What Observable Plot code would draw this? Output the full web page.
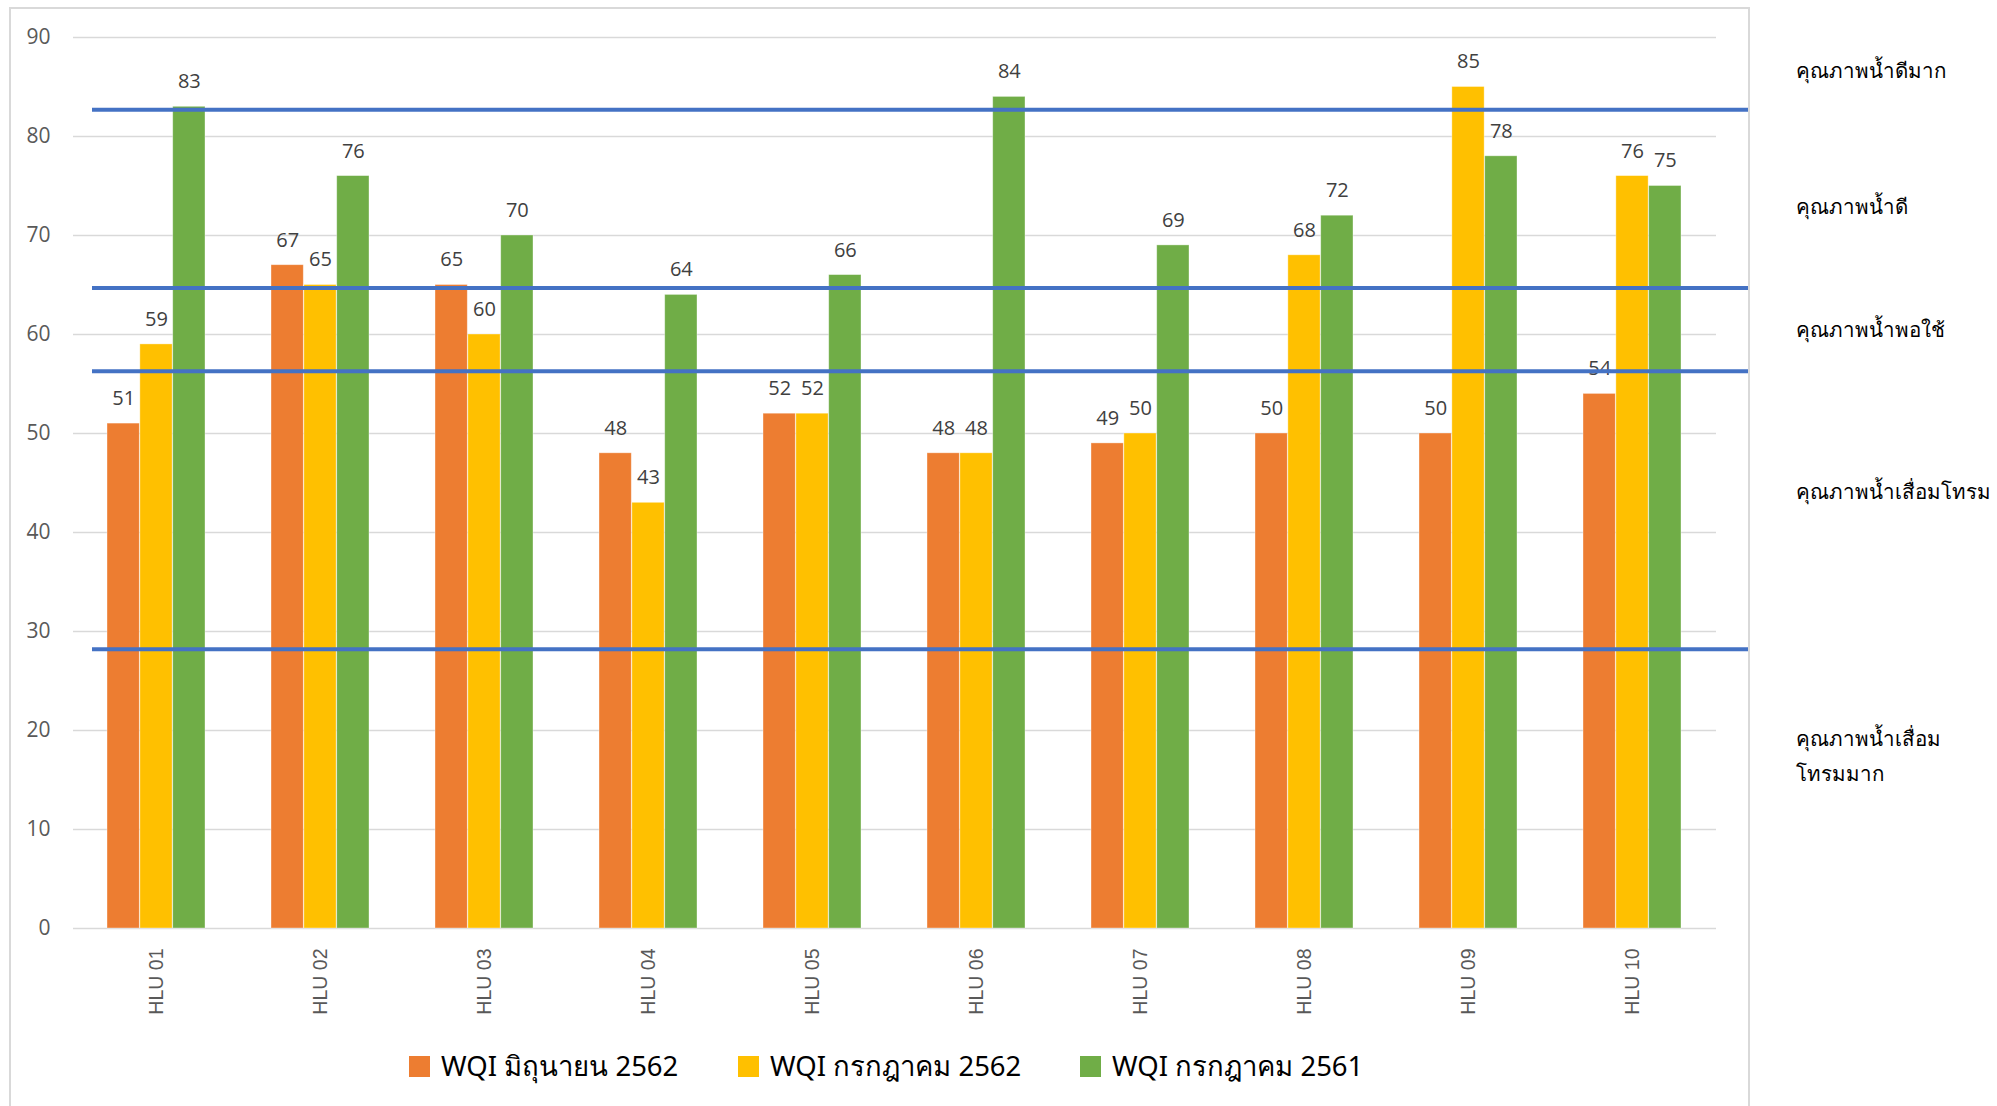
<!DOCTYPE html>
<html>
<head>
<meta charset="utf-8">
<script src="https://cdn.jsdelivr.net/npm/d3@7"></script>
<script src="https://cdn.jsdelivr.net/npm/@observablehq/plot@0.6"></script>
<style>
  html, body { margin: 0; padding: 0; background: #fff; overflow: hidden; }
  #wrap { position: relative; width: 1997px; height: 1106px; }
  #box { position: absolute; left: 9px; top: 7px; width: 1737px; height: 1200px; border: 2px solid #D9D9D9; pointer-events: none; }
  #chart { position: absolute; left: 0; top: 0; }
  #chart svg [aria-label^="x-axis"] text { font-family: "Liberation Sans", Arial, sans-serif; font-size: 19.5px; }
  #legend { position: absolute; left: 0; top: 1030px; width: 1997px; height: 72px; font-family: "Noto Sans", "DejaVu Sans", sans-serif; font-size: 27.5px; color: #000; }
  .item { position: absolute; top: 0; height: 72px; display: flex; align-items: center; }
  .sw { width: 21px; height: 21px; margin-right: 11px; }
</style>
</head>
<body>
<div id="wrap">
  <div id="chart"></div>
  <div id="legend"></div>
  <div id="box"></div>
</div>
<script>
const stations = ["HLU 01","HLU 02","HLU 03","HLU 04","HLU 05","HLU 06","HLU 07","HLU 08","HLU 09","HLU 10"];
const seriesNames = ["WQI มิถุนายน 2562","WQI กรกฎาคม 2562","WQI กรกฎาคม 2561"];
const wqiJun2562 = [51, 67, 65, 48, 52, 48, 49, 50, 50, 54];
const wqiJul2562 = [59, 65, 60, 43, 52, 48, 50, 68, 85, 76];
const wqiJul2561 = [83, 76, 70, 64, 66, 84, 69, 72, 78, 75];
const seriesColors = ["#ED7D31","#FFC000","#70AD47"];
const yTicks = [0,10,20,30,40,50,60,70,80,90];
const thresholds = [82.7, 64.7, 56.3, 28.2];
const zoneLabels = ["คุณภาพน้ำดีมาก","คุณภาพน้ำดี","คุณภาพน้ำพอใช้","คุณภาพน้ำเสื่อมโทรม","คุณภาพน้ำเสื่อม\nโทรมมาก"];
const zoneLabelY = [86.5, 72.8, 60.4, 44, 17.3];

const seriesValues = [wqiJun2562, wqiJul2562, wqiJul2561];
const rows = stations.flatMap((s, j) => seriesNames.map((name, i) => ({station: s, series: name, idx: i, value: seriesValues[i][j]})));
const zones = zoneLabels.map((t, i) => ({label: t, y: zoneLabelY[i]}));

const W = 1997, H = 1030, mL = 73, mR = 1997 - 1716, mT = 37, mB = H - 928;
const step = (W - mL - mR) / (stations.length - 0.4 + 0.4);
const bw = step * 0.6;
const third = bw / 3;

const marks = [
  Plot.ruleY(yTicks, {stroke: "#D9D9D9", strokeWidth: 1.5}),
];
seriesNames.forEach((name, i) => {
  const data = rows.filter(d => d.idx === i);
  marks.push(Plot.barY(data, {
    x: "station", y: "value", fill: "series",
    insetLeft: third * i, insetRight: third * (2 - i),
    stroke: "#fff", strokeOpacity: 0.45, strokeWidth: 0.8
  }));
  marks.push(Plot.text(data, {
    x: "station", y: "value", text: d => String(d.value),
    dx: third * (i - 1), dy: -25, lineAnchor: "middle",
    fill: "#404040", fontSize: 20, fontFamily: "Open Sans, sans-serif"
  }));
});
marks.push(Plot.ruleY(thresholds, {stroke: "#4472C4", strokeWidth: 4, insetLeft: 19, insetRight: -33}));
marks.push(Plot.text(zones, {
  y: "y", text: "label", frameAnchor: "right", dx: 79, dy: -5, textAnchor: "start",
  lineAnchor: "middle", lineHeight: 1.7, fill: "#000", fontSize: 20.5,
  fontFamily: "Noto Sans, DejaVu Sans, sans-serif"
}));

const chart = Plot.plot({
  width: W, height: H,
  marginLeft: mL, marginRight: mR, marginTop: mT, marginBottom: mB,
  style: {fontFamily: "Open Sans, sans-serif", fontSize: "21px", color: "#595959", background: "transparent", overflow: "visible"},
  x: {domain: stations, paddingInner: 0.4, paddingOuter: 0.2, tickSize: 0, tickPadding: 20, tickRotate: -90, label: null},
  y: {domain: [0, 90], ticks: yTicks, tickSize: 0, tickPadding: 23, label: null},
  color: {domain: seriesNames, range: seriesColors},
  marks
});
document.getElementById("chart").appendChild(chart);

const legend = document.getElementById("legend");
const legendX = [409, 738, 1080];
seriesNames.forEach((name, i) => {
  const it = document.createElement("div");
  it.className = "item";
  it.style.left = legendX[i] + "px";
  const sw = document.createElement("div");
  sw.className = "sw";
  sw.style.background = seriesColors[i];
  const tx = document.createElement("span");
  tx.textContent = name;
  it.appendChild(sw); it.appendChild(tx);
  legend.appendChild(it);
});
</script>
</body>
</html>
